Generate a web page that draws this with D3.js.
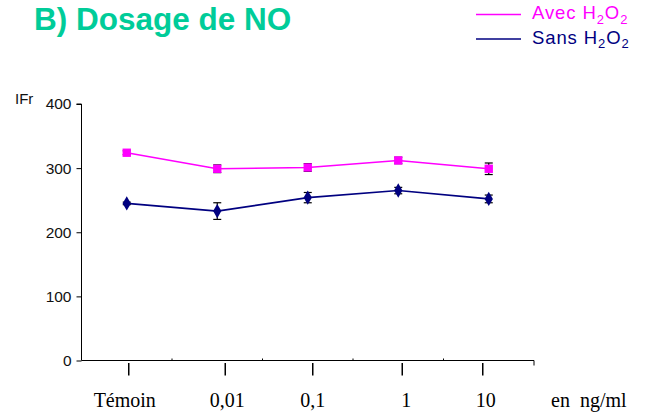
<!DOCTYPE html>
<html>
<head>
<meta charset="utf-8">
<script src="https://cdn.jsdelivr.net/npm/d3@7"></script>
<style>
  html, body { margin: 0; padding: 0; background: #fff; }
  svg { display: block; }
</style>
</head>
<body>
<svg id="chart" width="645" height="416"></svg>
<script>
// Concentrations tested (x categories)
const categories = ["Témoin", "0,01", "0,1", "1", "10"];
// Fluorescence index (IFr), with H2O2
const avecValues = [324, 299, 301, 312, 299];
const avecErrors = [3, 6, 6, 5, 9];
// Fluorescence index (IFr), without H2O2
const sansValues = [245, 233, 254, 265, 252];
const sansErrors = [2, 13, 8, 5, 6];
// Y axis ticks
const yTicks = [0, 100, 200, 300, 400];

// Horizontal nudges for the hand-placed category ticks and labels under the axis
const tickNudge = [2, 8, 5, 4, -6];
const labelNudge = [-2, 10, 5, 8, -3];

const svg = d3.select("#chart");
const plot = { left: 81.5, right: 534, top: 104, bottom: 360.5 };

const x = d3.scaleBand().domain(categories).range([plot.left, plot.right]).padding(0);
const y = d3.scaleLinear().domain([0, 400]).range([plot.bottom, plot.top]);
const cx = c => x(c) + x.bandwidth() / 2;

const sans = "Liberation Sans, Arial, sans-serif";
const serif = "Liberation Serif, Times New Roman, serif";

// Title
svg.append("text")
  .attr("x", 34).attr("y", 30)
  .attr("font-family", sans)
  .attr("font-weight", "bold").attr("font-size", 31.5)
  .attr("fill", "#00cc99")
  .text("B) Dosage de NO");

// Legend
const legend = [
  { label: "Avec", color: "#ff00ff", y: 14.5 },
  { label: "Sans", color: "#000080", y: 39 }
];
legend.forEach(l => {
  svg.append("line")
    .attr("x1", 476).attr("x2", 521).attr("y1", l.y).attr("y2", l.y)
    .attr("stroke", l.color).attr("stroke-width", 1.5);
  const t = svg.append("text")
    .attr("x", 532).attr("y", l.y + 4.5)
    .attr("font-family", sans)
    .attr("font-size", 18.5).attr("fill", l.color)
    .attr("letter-spacing", 0.9);
  t.append("tspan").text(l.label + " H");
  t.append("tspan").attr("font-size", 13).attr("dy", 4.5).text("2");
  t.append("tspan").attr("dy", -4.5).text("O");
  t.append("tspan").attr("font-size", 13).attr("dy", 4.5).text("2");
});

// Y axis
const yAxis = d3.axisLeft(y).tickValues(yTicks).tickSize(5).tickPadding(5);
const gy = svg.append("g").attr("transform", `translate(${plot.left},0)`).call(yAxis);
gy.select(".domain").attr("stroke", "#000").attr("d", `M-5,${y(400)}H0V${plot.bottom}`);
gy.selectAll(".tick line").attr("stroke", "#000");
gy.selectAll(".tick text")
  .attr("font-family", sans)
  .attr("font-size", 15.5).attr("fill", "#111");

// Y axis unit
svg.append("text")
  .attr("x", 15).attr("y", 104)
  .attr("font-family", sans)
  .attr("font-size", 15).attr("fill", "#111")
  .text("IFr");

// X axis line with small boundary ticks
svg.append("line")
  .attr("x1", plot.left).attr("x2", plot.right)
  .attr("y1", plot.bottom).attr("y2", plot.bottom)
  .attr("stroke", "#000").attr("stroke-width", 1);
categories.slice(1).forEach(c => {
  svg.append("line")
    .attr("x1", x(c)).attr("x2", x(c))
    .attr("y1", plot.bottom).attr("y2", plot.bottom - 2)
    .attr("stroke", "#000");
});
svg.append("line")
  .attr("x1", plot.right).attr("x2", plot.right)
  .attr("y1", plot.bottom).attr("y2", plot.bottom + 5)
  .attr("stroke", "#000");

// Category ticks and labels below the axis
categories.forEach((c, i) => {
  svg.append("line")
    .attr("x1", cx(c) + tickNudge[i]).attr("x2", cx(c) + tickNudge[i])
    .attr("y1", plot.bottom + 2.5).attr("y2", plot.bottom + 15)
    .attr("stroke", "#000").attr("stroke-width", 1.5);
  svg.append("text")
    .attr("x", cx(c) + labelNudge[i]).attr("y", 407)
    .attr("text-anchor", "middle")
    .attr("font-family", serif)
    .attr("font-size", 20).attr("fill", "#000")
    .text(c);
});
svg.append("text")
  .attr("x", 551).attr("y", 407)
  .attr("font-family", serif)
  .attr("font-size", 20).attr("fill", "#000")
  .attr("xml:space", "preserve")
  .text("en  ng/ml");

// Series
const series = [
  { values: avecValues, errors: avecErrors, color: "#ff00ff", marker: d3.symbolSquare, size: 70 },
  { values: sansValues, errors: sansErrors, color: "#000080", marker: d3.symbolDiamond, size: 60 }
];

series.forEach(s => {
  const pts = categories.map((c, i) => ({ c, v: s.values[i], e: s.errors[i] }));
  svg.append("path")
    .datum(pts)
    .attr("fill", "none").attr("stroke", s.color).attr("stroke-width", 1.6)
    .attr("d", d3.line().x(d => cx(d.c)).y(d => y(d.v)));

  const eb = svg.append("g").attr("stroke", "#000").attr("stroke-width", 1.2);
  pts.forEach(d => {
    const X = cx(d.c);
    eb.append("line").attr("x1", X).attr("x2", X).attr("y1", y(d.v - d.e)).attr("y2", y(d.v + d.e));
    eb.append("line").attr("x1", X - 4).attr("x2", X + 4).attr("y1", y(d.v - d.e)).attr("y2", y(d.v - d.e));
    eb.append("line").attr("x1", X - 4).attr("x2", X + 4).attr("y1", y(d.v + d.e)).attr("y2", y(d.v + d.e));
  });

  svg.append("g").selectAll("path")
    .data(pts).join("path")
    .attr("transform", d => `translate(${cx(d.c)},${y(d.v)})`)
    .attr("d", d3.symbol().type(s.marker).size(s.size))
    .attr("fill", s.color);
});
</script>
</body>
</html>
